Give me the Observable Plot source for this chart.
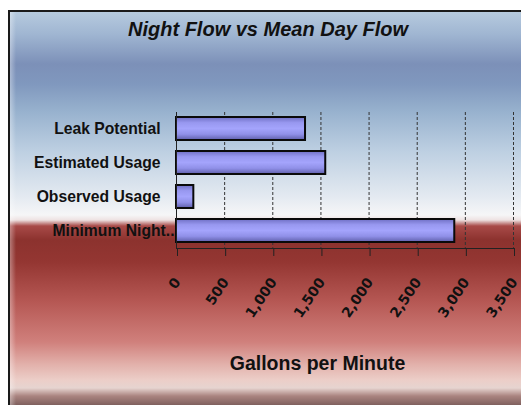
<!DOCTYPE html>
<html>
<head>
<meta charset="utf-8">
<script src="https://cdn.jsdelivr.net/npm/d3@7"></script>
<script src="https://cdn.jsdelivr.net/npm/@observablehq/plot@0.6"></script>
<style>
  html, body { margin: 0; padding: 0; background: #ffffff; width: 521px; height: 405px; overflow: hidden; }
  #frame {
    position: absolute; left: 8px; top: 10px; width: 513px; height: 395px;
    border-left: 2px solid #1a1a1a; border-top: 2px solid #1a1a1a; box-sizing: border-box;
    background: linear-gradient(to bottom,
      rgb(182,202,222) 0px, rgb(160,182,210) 22px, rgb(124,144,184) 52px,
      rgb(128,152,190) 72px, rgb(152,178,206) 100px, rgb(190,208,226) 140px,
      rgb(228,234,241) 185px, rgb(246,246,247) 203px, rgb(238,226,226) 208px,
      rgb(168,74,72) 214px, rgb(140,50,46) 228px, rgb(148,54,50) 250px,
      rgb(182,88,84) 290px, rgb(208,128,124) 330px, rgb(226,176,170) 352px,
      rgb(236,206,200) 368px, rgb(230,212,208) 376px, rgb(170,132,128) 384px,
      rgb(118,88,86) 395px);
  }
  #frame::before {
    content: ""; position: absolute; left: 0; top: 0; width: 6px; height: 100%;
    background: linear-gradient(to right, rgba(255,255,255,0.35), rgba(255,255,255,0));
  }
  #title {
    position: absolute; left: 0; top: 18px; width: 536px; text-align: center;
    font: italic bold 20px "Liberation Sans", Arial, sans-serif; color: #111;
  }
  #xlabel {
    position: absolute; left: 0; top: 352px; width: 635px; text-align: center;
    font: bold 19.5px "Liberation Sans", Arial, sans-serif; color: #111;
  }
  #chart { position: absolute; left: 0; top: 0; }
</style>
</head>
<body>
<div id="frame"></div>
<div id="title">Night Flow vs Mean Day Flow</div>
<div id="chart"></div>
<div id="xlabel">Gallons per Minute</div>
<script>
const categories = ["Leak Potential", "Estimated Usage", "Observed Usage", "Minimum Night.."];
const values = [1340, 1550, 180, 2890];
const xTicks = [0, 500, 1000, 1500, 2000, 2500, 3000, 3500];

const data = categories.map((c, i) => ({category: c, value: values[i]}));

const svg = Plot.plot({
  width: 521,
  height: 345,
  marginTop: 112,
  marginBottom: 97,
  marginLeft: 176,
  marginRight: 8,
  style: {background: "transparent", fontFamily: "'Liberation Sans', Arial, sans-serif", fontWeight: "bold", color: "#111", overflow: "visible"},
  x: {domain: [0, 3500]},
  y: {domain: categories, paddingInner: 0.31, paddingOuter: 0.155},
  marks: [
    Plot.gridX(xTicks.slice(1), {stroke: "#333", strokeOpacity: 1, strokeDasharray: "3,2"}),
    Plot.barX(data, {x: "value", y: "category", fill: "url(#barGrad)", stroke: "#0a0a0a", strokeWidth: 2}),
    Plot.ruleX([0], {stroke: "#222", strokeWidth: 1}),
    Plot.frame({anchor: "bottom", stroke: "#222"}),
    Plot.axisX(xTicks, {tickSize: 8, tickRotate: -56, tickFormat: d3.format(","), label: null,
      fontFamily: "'DejaVu Sans', Verdana, sans-serif", fontSize: 14, fontWeight: "bold", tickPadding: 23, dx: 1, stroke: "#222"}),
    Plot.axisY({tickSize: 0, tickPadding: 16, label: null, fontSize: 15.7, fontWeight: "bold", textAnchor: "end",
      filter: d => d !== "Minimum Night.."}),
    Plot.axisY(["Minimum Night.."], {tickSize: 0, tickPadding: 2, label: null, fontSize: 15.7, fontWeight: "bold"})
  ]
});

const ns = "http://www.w3.org/2000/svg";
const defs = document.createElementNS(ns, "defs");
const grad = document.createElementNS(ns, "linearGradient");
grad.setAttribute("id", "barGrad");
grad.setAttribute("x1", "0"); grad.setAttribute("y1", "0");
grad.setAttribute("x2", "0"); grad.setAttribute("y2", "1");
[["0%", "#6f6fc4"], ["25%", "#9898f0"], ["50%", "#a4a4fc"], ["75%", "#9090e8"], ["100%", "#5e5eaa"]].forEach(([o, c]) => {
  const s = document.createElementNS(ns, "stop");
  s.setAttribute("offset", o); s.setAttribute("stop-color", c);
  grad.appendChild(s);
});
defs.appendChild(grad);
svg.insertBefore(defs, svg.firstChild);

document.getElementById("chart").appendChild(svg);
</script>
</body>
</html>
